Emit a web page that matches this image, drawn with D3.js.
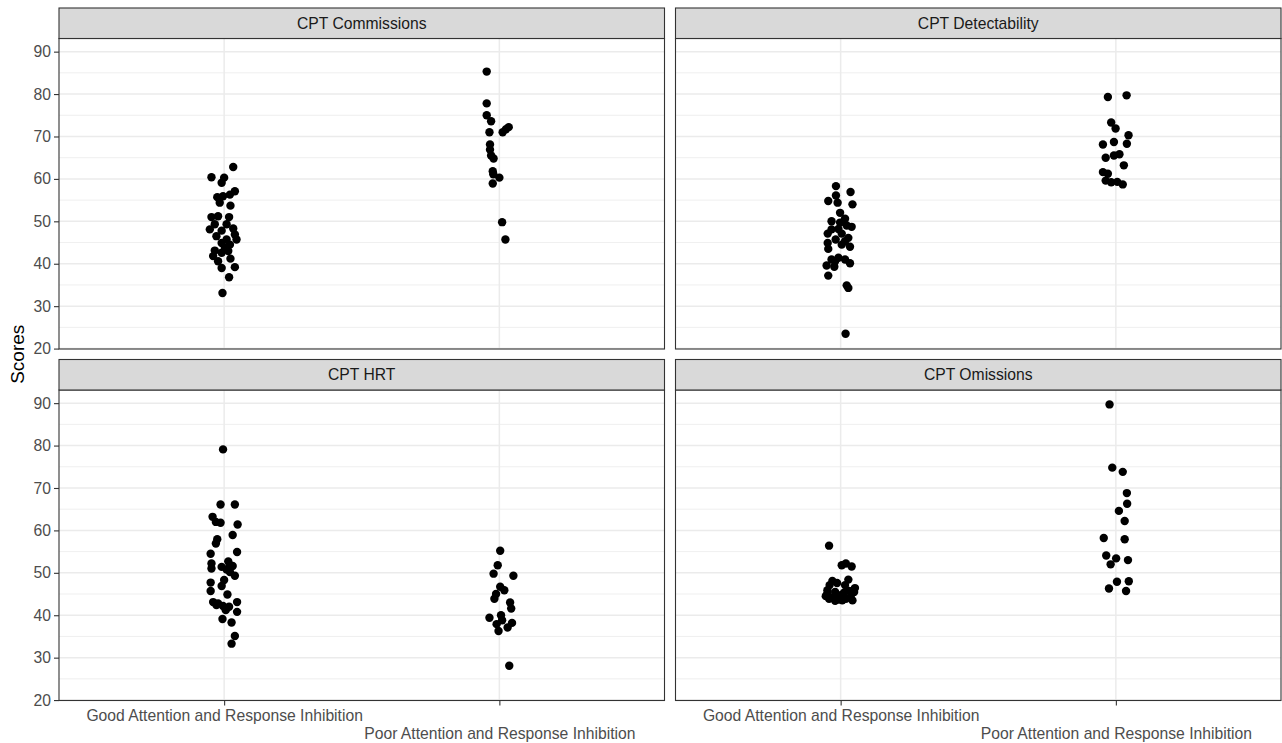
<!DOCTYPE html>
<html>
<head>
<meta charset="utf-8">
<script src="https://cdn.jsdelivr.net/npm/d3@7"></script>
<style>
  body { margin: 0; background: #fff; }
  svg { display: block; font-family: "Liberation Sans", Arial, sans-serif; }
</style>
</head>
<body>
<svg id="chart"></svg>
<script>
// groups on the x axis and facet titles
const categories = ['Good Attention and Response Inhibition', 'Poor Attention and Response Inhibition'];
const facetTitles = ['CPT Commissions', 'CPT Detectability', 'CPT HRT', 'CPT Omissions'];
const yTicks = [20, 30, 40, 50, 60, 70, 80, 90];
const yMinor = [25, 35, 45, 55, 65, 75, 85];

// scores, with the horizontal jitter (in category units)
const commGoodScores = [62.8, 60.4, 60.3, 59.1, 57.1, 56.3, 55.7, 55.9, 54.4, 53.7, 51.0, 51.2, 51.0, 48.1, 48.3, 47.8, 46.5, 46.9, 45.7, 45.7, 44.9, 44.5, 43.8, 43.1, 42.6, 41.8, 43.0, 40.6, 41.2, 39.0, 39.2, 36.8, 33.1, 49.3, 49.3];
const commGoodJitter = [0.033, -0.046, 0.0, -0.009, 0.039, 0.021, -0.025, -0.004, -0.016, 0.023, -0.046, -0.022, 0.018, -0.052, 0.033, -0.009, -0.028, 0.039, 0.045, 0.009, -0.009, 0.021, 0.003, -0.034, -0.009, -0.040, 0.015, -0.022, 0.023, -0.009, 0.039, 0.018, -0.006, -0.034, 0.009];
const commPoorScores = [85.3, 77.8, 75.0, 73.6, 72.2, 71.7, 71.0, 71.0, 68.1, 66.9, 65.5, 64.8, 61.8, 61.1, 60.3, 58.9, 49.8, 45.7];
const commPoorJitter = [-0.046, -0.046, -0.046, -0.030, 0.034, 0.024, 0.012, -0.036, -0.034, -0.034, -0.030, -0.021, -0.024, -0.022, 0.0, -0.024, 0.010, 0.022];

const detGoodScores = [58.3, 56.1, 56.9, 54.8, 54.4, 54.0, 52.0, 50.6, 50.0, 48.7, 49.0, 48.2, 47.1, 47.1, 46.1, 45.7, 44.9, 44.5, 44.0, 43.5, 41.0, 41.4, 41.0, 40.1, 39.6, 39.3, 37.2, 34.9, 34.3, 23.5, 48.1, 45.3, 40.6, 49.7];
const detGoodJitter = [-0.017, -0.017, 0.036, -0.045, -0.011, 0.043, -0.002, 0.016, -0.033, 0.040, 0.022, -0.008, -0.047, 0.004, 0.028, -0.018, -0.047, 0.004, 0.034, -0.045, -0.033, -0.008, 0.016, 0.034, -0.051, -0.023, -0.045, 0.022, 0.028, 0.018, -0.033, 0.016, -0.020, -0.002];
const detPoorScores = [79.3, 79.7, 73.3, 71.9, 70.3, 68.1, 68.7, 68.3, 65.8, 65.5, 65.0, 63.2, 61.6, 61.2, 59.6, 59.2, 59.3, 58.7];
const detPoorJitter = [-0.029, 0.039, -0.017, -0.001, 0.046, -0.047, -0.007, 0.040, 0.013, -0.007, -0.037, 0.029, -0.047, -0.029, -0.037, -0.017, 0.005, 0.025];

const hrtGoodScores = [79.1, 66.1, 66.1, 63.2, 62.0, 61.8, 61.4, 58.9, 57.9, 56.9, 54.9, 54.5, 52.2, 52.7, 51.0, 51.4, 50.8, 51.6, 50.2, 49.3, 48.3, 47.7, 46.9, 45.7, 44.9, 43.1, 42.8, 42.2, 42.0, 43.1, 41.2, 40.8, 39.1, 38.3, 35.1, 33.3, 42.4, 51.8];
const hrtGoodJitter = [-0.004, -0.013, 0.039, -0.042, -0.030, -0.013, 0.049, 0.031, -0.025, -0.030, 0.047, -0.049, -0.046, 0.015, -0.046, -0.009, 0.009, 0.031, 0.021, 0.039, 0.0, -0.049, -0.009, -0.049, 0.012, -0.040, -0.022, -0.004, 0.018, 0.047, 0.006, 0.047, -0.006, 0.027, 0.039, 0.027, -0.028, 0.021];
const hrtPoorScores = [55.2, 51.8, 49.8, 49.3, 46.7, 45.9, 45.0, 43.9, 43.0, 41.6, 39.4, 40.0, 37.9, 38.8, 38.2, 37.1, 36.3, 28.1];
const hrtPoorJitter = [0.003, -0.006, -0.021, 0.051, 0.003, 0.018, -0.012, -0.018, 0.039, 0.043, -0.036, 0.006, -0.010, 0.010, 0.046, 0.030, -0.003, 0.036];

const omGoodScores = [52.2, 51.8, 51.5, 48.1, 48.4, 47.1, 47.1, 45.9, 45.5, 45.7, 45.5, 44.5, 44.2, 44.7, 43.9, 44.2, 43.7, 43.9, 43.5, 43.5, 47.6, 46.4, 45.0, 45.3, 43.4, 56.4];
const omGoodJitter = [0.019, 0.004, 0.040, -0.030, 0.028, -0.040, 0.016, -0.048, -0.020, 0.031, 0.049, -0.054, -0.030, 0.0, 0.019, 0.037, -0.008, -0.042, 0.043, 0.006, -0.013, 0.052, -0.049, 0.012, -0.020, -0.042];
const omPoorScores = [89.7, 74.8, 73.8, 68.8, 66.3, 64.6, 62.2, 58.2, 57.9, 54.1, 53.4, 52.0, 53.0, 47.9, 48.0, 46.3, 45.7];
const omPoorJitter = [-0.023, -0.013, 0.025, 0.040, 0.041, 0.011, 0.032, -0.044, 0.032, -0.035, 0.001, -0.019, 0.044, 0.004, 0.047, -0.025, 0.037];

const facets = [
    { title: facetTitles[0], groups: [[commGoodScores, commGoodJitter], [commPoorScores, commPoorJitter]] },
    { title: facetTitles[1], groups: [[detGoodScores, detGoodJitter], [detPoorScores, detPoorJitter]] },
    { title: facetTitles[2], groups: [[hrtGoodScores, hrtGoodJitter], [hrtPoorScores, hrtPoorJitter]] },
    { title: facetTitles[3], groups: [[omGoodScores, omGoodJitter], [omPoorScores, omPoorJitter]] }
];

const width = 1282, height = 743;
const marginLeft = 59, marginTop = 8;
const panelW = 605.5, panelH = 310.5, stripH = 30.5;
const hGap = 11, vGap = 10.5;
const fontSize = 15.7;

const svg = d3.select('#chart')
    .attr('width', width)
    .attr('height', height);

svg.append('rect')
    .attr('width', width)
    .attr('height', height)
    .attr('fill', '#fff');

facets.forEach((f, i) => {
    let col = i % 2, row = Math.floor(i / 2);
    let x0 = marginLeft + col * (panelW + hGap);
    let s0 = marginTop + row * (stripH + panelH + vGap);
    let y0 = s0 + stripH;

    let x = d3.scaleLinear().domain([0.4, 2.6]).range([x0, x0 + panelW]);
    let y = d3.scaleLinear().domain([19.9, 93.1]).range([y0 + panelH, y0]);

    let g = svg.append('g');

    // grid
    g.selectAll('.minor')
        .data(yMinor)
        .join('line')
        .attr('x1', x0).attr('x2', x0 + panelW)
        .attr('y1', d => y(d)).attr('y2', d => y(d))
        .attr('stroke', '#ebebeb')
        .attr('stroke-width', 0.8);
    g.selectAll('.major')
        .data(yTicks)
        .join('line')
        .attr('x1', x0).attr('x2', x0 + panelW)
        .attr('y1', d => y(d)).attr('y2', d => y(d))
        .attr('stroke', '#ebebeb')
        .attr('stroke-width', 1.5);
    g.selectAll('.vmajor')
        .data([1, 2])
        .join('line')
        .attr('x1', d => x(d)).attr('x2', d => x(d))
        .attr('y1', y0).attr('y2', y0 + panelH)
        .attr('stroke', '#ebebeb')
        .attr('stroke-width', 1.5);

    // points
    f.groups.forEach(([scores, jitter], k) => {
        g.append('g')
            .selectAll('circle')
            .data(scores)
            .join('circle')
            .attr('cx', (d, j) => x(k + 1 + jitter[j]))
            .attr('cy', d => y(d))
            .attr('r', 4.2)
            .attr('fill', '#000');
    });

    // panel border
    g.append('rect')
        .attr('x', x0).attr('y', y0)
        .attr('width', panelW).attr('height', panelH)
        .attr('fill', 'none')
        .attr('stroke', '#333333')
        .attr('stroke-width', 1.1);

    // strip
    g.append('rect')
        .attr('x', x0).attr('y', s0)
        .attr('width', panelW).attr('height', stripH)
        .attr('fill', '#d9d9d9')
        .attr('stroke', '#333333')
        .attr('stroke-width', 1.1);
    g.append('text')
        .attr('x', x0 + panelW / 2)
        .attr('y', s0 + stripH / 2)
        .attr('dy', '0.35em')
        .attr('text-anchor', 'middle')
        .attr('font-size', fontSize)
        .attr('fill', '#1a1a1a')
        .text(f.title);

    if (col === 0) {
        let ax = g.append('g')
            .attr('transform', `translate(${x0},0)`)
            .call(d3.axisLeft(y).tickValues(yTicks).tickSize(5).tickPadding(3));
        ax.select('.domain').remove();
        ax.selectAll('line').attr('stroke', '#333333').attr('stroke-width', 1.1);
        ax.selectAll('text')
            .attr('font-size', fontSize)
            .attr('font-family', null)
            .attr('fill', '#4d4d4d');
    }
    if (row === 1) {
        let ax = g.append('g')
            .attr('transform', `translate(0,${y0 + panelH})`)
            .call(d3.axisBottom(x).tickValues([1, 2]).tickFormat(d => categories[d - 1]).tickSize(5).tickPadding(4));
        ax.select('.domain').remove();
        ax.selectAll('line').attr('stroke', '#333333').attr('stroke-width', 1.1);
        ax.selectAll('text')
            .attr('font-size', fontSize)
            .attr('font-family', null)
            .attr('fill', '#4d4d4d')
            .attr('y', (d, j) => j === 1 ? 27 : 9);
    }
});

// y axis title
svg.append('text')
    .attr('transform', `translate(17,${(2 * marginTop + 2 * (stripH + panelH) + vGap) / 2}) rotate(-90)`)
    .attr('text-anchor', 'middle')
    .attr('dy', '0.35em')
    .attr('font-size', 19)
    .attr('fill', '#000')
    .text('Scores');
</script>
</body>
</html>
